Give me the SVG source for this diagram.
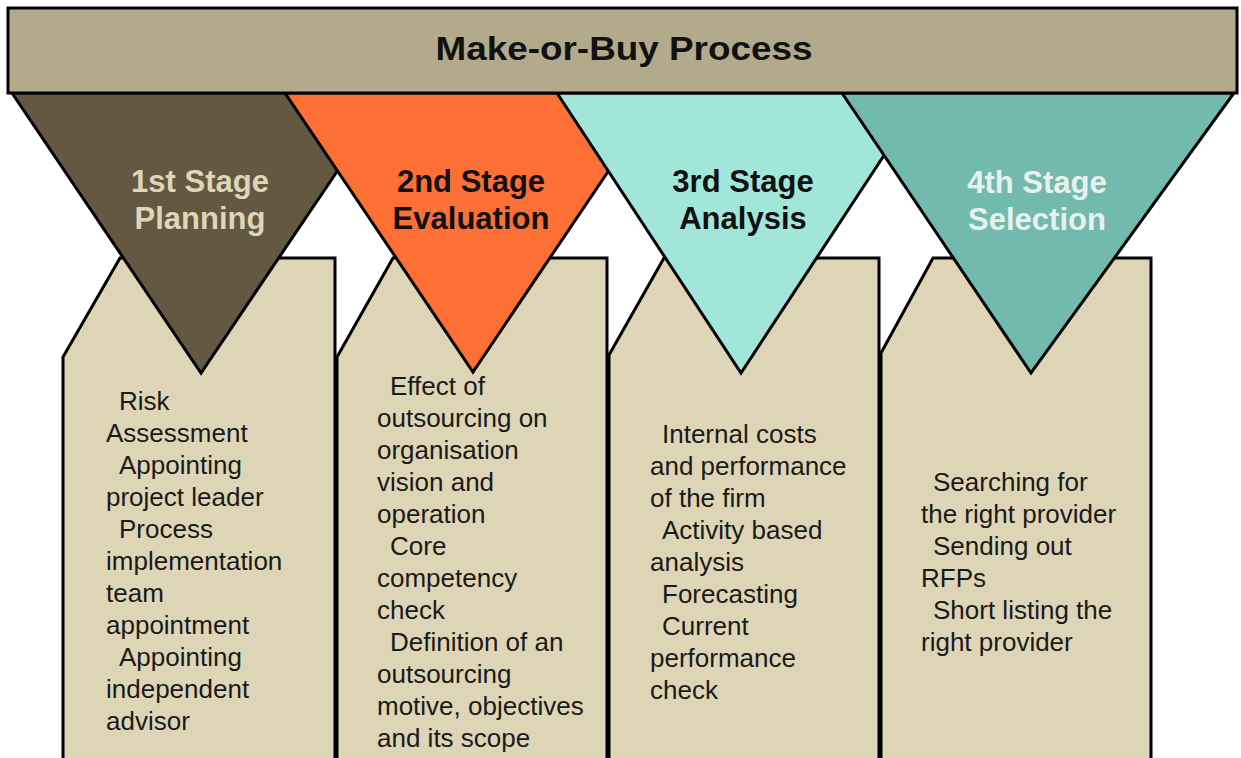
<svg xmlns="http://www.w3.org/2000/svg" width="1241" height="758" viewBox="0 0 1241 758">
<style>
.shape{stroke:#000;stroke-width:3;stroke-linejoin:miter}
.box{fill:#ded5b6}
.title{font-family:"Liberation Sans",Arial,sans-serif;font-weight:bold;font-size:34px;fill:#111;text-anchor:middle}
.stage{font-family:"Liberation Sans",Arial,sans-serif;font-weight:bold;font-size:31px;text-anchor:middle}
.body{font-family:"Liberation Sans",Arial,sans-serif;font-size:26px;fill:#1a1a1a}
</style>
<rect width="1241" height="758" fill="#fff"/>

<g id="box1">
<polygon class="shape box" points="63,357 120,258 335,258 335,775 63,775"/>
<text class="body">
<tspan x="119" y="410">Risk</tspan>
<tspan x="106" y="442">Assessment</tspan>
<tspan x="119" y="474">Appointing</tspan>
<tspan x="106" y="506">project leader</tspan>
<tspan x="119" y="538">Process</tspan>
<tspan x="106" y="570">implementation</tspan>
<tspan x="106" y="602">team</tspan>
<tspan x="106" y="634">appointment</tspan>
<tspan x="119" y="666">Appointing</tspan>
<tspan x="106" y="698">independent</tspan>
<tspan x="106" y="730">advisor</tspan>
</text>
</g>

<g id="box2">
<polygon class="shape box" points="337,357 393,258 607,258 607,775 337,775"/>
<text class="body">
<tspan x="390" y="395">Effect of</tspan>
<tspan x="377" y="427">outsourcing on</tspan>
<tspan x="377" y="459">organisation</tspan>
<tspan x="377" y="491">vision and</tspan>
<tspan x="377" y="523">operation</tspan>
<tspan x="390" y="555">Core</tspan>
<tspan x="377" y="587">competency</tspan>
<tspan x="377" y="619">check</tspan>
<tspan x="390" y="651">Definition of an</tspan>
<tspan x="377" y="683">outsourcing</tspan>
<tspan x="377" y="715">motive, objectives</tspan>
<tspan x="377" y="747">and its scope</tspan>
</text>
</g>

<g id="box3">
<polygon class="shape box" points="609,355 664,258 879,258 879,775 609,775"/>
<text class="body">
<tspan x="662" y="443">Internal costs</tspan>
<tspan x="650" y="475">and performance</tspan>
<tspan x="650" y="507">of the firm</tspan>
<tspan x="662" y="539">Activity based</tspan>
<tspan x="650" y="571">analysis</tspan>
<tspan x="662" y="603">Forecasting</tspan>
<tspan x="662" y="635">Current</tspan>
<tspan x="650" y="667">performance</tspan>
<tspan x="650" y="699">check</tspan>
</text>
</g>

<g id="box4">
<polygon class="shape box" points="881,353 933,258 1151,258 1151,775 881,775"/>
<text class="body">
<tspan x="933" y="491">Searching for</tspan>
<tspan x="921" y="523">the right provider</tspan>
<tspan x="933" y="555">Sending out</tspan>
<tspan x="921" y="587">RFPs</tspan>
<tspan x="933" y="619">Short listing the</tspan>
<tspan x="921" y="651">right provider</tspan>
</text>
</g>

<g id="stage1">
<polygon class="shape" fill="#655843" points="12,93 390,93 201,373"/>
<text class="stage" fill="#ddd6b9"><tspan x="200" y="192">1st Stage</tspan><tspan x="200" y="229">Planning</tspan></text>
</g>

<g id="stage2">
<polygon class="shape" fill="#fc6f35" points="285,93 661,93 473,372"/>
<text class="stage" fill="#111"><tspan x="471" y="192">2nd Stage</tspan><tspan x="471" y="229">Evaluation</tspan></text>
</g>

<g id="stage3">
<polygon class="shape" fill="#a2e6da" points="557,93 925,93 741,373"/>
<text class="stage" fill="#111"><tspan x="743" y="192">3rd Stage</tspan><tspan x="743" y="229">Analysis</tspan></text>
</g>

<g id="stage4">
<polygon class="shape" fill="#73baae" points="842,93 1234,93 1031,373"/>
<text class="stage" fill="#e9f1ef"><tspan x="1037" y="193">4th Stage</tspan><tspan x="1037" y="230">Selection</tspan></text>
</g>

<g id="header">
<rect class="shape" fill="#b3a98b" x="8" y="8" width="1229" height="85"/>
<text class="title" x="624" y="60" textLength="377" lengthAdjust="spacingAndGlyphs">Make-or-Buy Process</text>
</g>

<g id="connectors"></g>
</svg>
